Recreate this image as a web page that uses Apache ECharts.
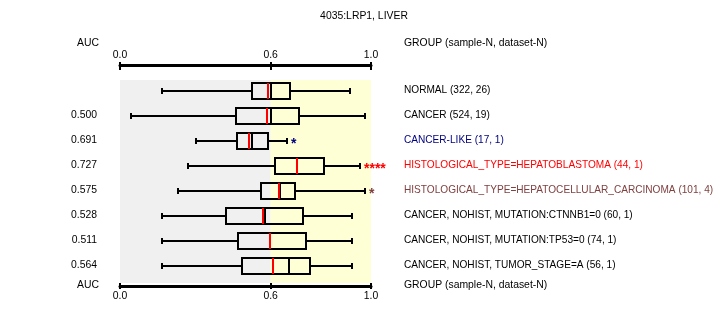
<!DOCTYPE html>
<html><head><meta charset="utf-8">
<script src="https://cdn.jsdelivr.net/npm/echarts@6/dist/echarts.min.js"></script>
<style>html,body{margin:0;padding:0;background:#fff}#c{width:721px;height:330px}</style>
</head><body><div id="c"></div>
<script>
const title = '4035:LRP1, LIVER';
const categories = ['NORMAL (322, 26)', 'CANCER (524, 19)', 'CANCER-LIKE (17, 1)',
  'HISTOLOGICAL_TYPE=HEPATOBLASTOMA (44, 1)', 'HISTOLOGICAL_TYPE=HEPATOCELLULAR_CARCINOMA (101, 4)',
  'CANCER, NOHIST, MUTATION:CTNNB1=0 (60, 1)', 'CANCER, NOHIST, MUTATION:TP53=0 (74, 1)',
  'CANCER, NOHIST, TUMOR_STAGE=A (56, 1)'];
const groupColors = ['#000000', '#000000', '#000080', '#ff0000', '#804040', '#000000', '#000000', '#000000'];
const aucLabels = ['', '0.500', '0.691', '0.727', '0.575', '0.528', '0.511', '0.564'];
const whiskerLow  = [0.166, 0.045, 0.304, 0.272, 0.232, 0.169, 0.169, 0.169];
const q1          = [0.525, 0.463, 0.467, 0.619, 0.563, 0.424, 0.471, 0.487];
const median      = [0.603, 0.603, 0.527, 0.706, 0.639, 0.579, 0.599, 0.672];
const q3          = [0.678, 0.714, 0.591, 0.814, 0.699, 0.730, 0.742, 0.758];
const whiskerHigh = [0.918, 0.977, 0.667, 0.956, 0.977, 0.926, 0.926, 0.926];
const mean        = [0.591, 0.587, 0.515, 0.706, 0.633, 0.571, 0.599, 0.611];
const stars       = ['', '', '*', '****', '*', '', '', ''];
const xTicks = [0, 0.6, 1.0];
const splitValue = 0.6;

const FONT = 'Liberation Sans';
const FS = 10.4;
const FS_GROUP = 10.1;
const chart = echarts.init(document.getElementById('c'), null, {renderer: 'canvas'});
const boxData = categories.map((c, i) => [i, whiskerLow[i], q1[i], median[i], q3[i], whiskerHigh[i], mean[i]]);

function axisCommon(pos, offset, showLine, showLabel, tickInside, tickLen, labelMargin) {
  return {
    type: 'value', min: 0, max: 1, position: pos, offset: offset,
    splitLine: {show: false},
    axisLine: {show: showLine, onZero: false, lineStyle: {color: '#000', width: 3}},
    axisTick: {show: true, inside: tickInside, length: tickLen, customValues: xTicks, lineStyle: {color: '#000', width: 2}},
    axisLabel: {show: showLabel, customValues: xTicks, margin: labelMargin, color: '#000', fontFamily: FONT, fontSize: FS,
      formatter: v => v.toFixed(1)}
  };
}

chart.setOption({
  animation: false,
  backgroundColor: '#fff',
  textStyle: {fontFamily: FONT, fontSize: FS},
  title: {text: title, left: 359, textAlign: 'center', top: 6,
    textStyle: {fontFamily: FONT, fontSize: FS, fontWeight: 'normal', color: '#000'}},
  grid: {left: 120, right: 350, top: 78, height: 200, containLabel: false, outerBoundsMode: 'none'},
  xAxis: [
    axisCommon('top', 13, true, true, false, 3, 5),
    axisCommon('top', 13, false, false, true, 5, 5),
    axisCommon('bottom', 8, true, true, false, 3, 5),
    axisCommon('bottom', 8, false, false, true, 3, 5)
  ],
  yAxis: [
    {type: 'category', data: categories, inverse: true, position: 'left',
      axisLine: {show: false}, axisTick: {show: false}, splitLine: {show: false},
      axisLabel: {margin: 23, color: '#000', fontFamily: FONT, fontSize: FS, formatter: (v, i) => aucLabels[i]}},
    {type: 'category', data: categories, inverse: true, position: 'right',
      axisLine: {show: false}, axisTick: {show: false}, splitLine: {show: false},
      axisLabel: {margin: 33, align: 'left', fontFamily: FONT, fontSize: FS_GROUP,
        color: (v, i) => groupColors[i !== undefined ? i : categories.indexOf(v)]}}
  ],
  graphic: [
    {type: 'text', left: 77, top: 38, style: {text: 'AUC', font: FS + 'px ' + FONT, fill: '#000'}},
    {type: 'text', left: 404, top: 38, style: {text: 'GROUP (sample-N, dataset-N)', font: FS + 'px ' + FONT, fill: '#000'}},
    {type: 'text', left: 77, top: 280, style: {text: 'AUC', font: FS + 'px ' + FONT, fill: '#000'}},
    {type: 'text', left: 404, top: 280, style: {text: 'GROUP (sample-N, dataset-N)', font: FS + 'px ' + FONT, fill: '#000'}}
  ],
  series: [
    {
      type: 'custom', xAxisIndex: 0, yAxisIndex: 0, silent: true, z: 1,
      data: [[0, splitValue, 1]],
      encode: {x: [0, 1, 2]},
      renderItem: function (params, api) {
        const cs = params.coordSys;
        const x0 = api.coord([api.value(0), 0])[0];
        const xm = api.coord([api.value(1), 0])[0];
        const x1 = api.coord([api.value(2), 0])[0];
        const yTop = cs.y + 2, h = cs.height + 3;
        return {type: 'group', children: [
          {type: 'rect', shape: {x: x0, y: yTop, width: xm - x0, height: h}, style: {fill: '#f0f0f0'}},
          {type: 'rect', shape: {x: xm, y: yTop, width: x1 - xm, height: h}, style: {fill: '#ffffd6'}}
        ]};
      }
    },
    {
      type: 'custom', xAxisIndex: 0, yAxisIndex: 0, silent: true, z: 2,
      data: boxData,
      encode: {y: 0, x: [1, 2, 3, 4, 5, 6]},
      renderItem: function (params, api) {
        const i = api.value(0);
        const y = Math.round(api.coord([0, i])[1]);
        const X = k => Math.round(api.coord([api.value(k), i])[0]);
        const lo = X(1), a = X(2), md = X(3), b = X(4), hi = X(5), mn = X(6);
        const hh = 8, cap = 3;
        const ls = {stroke: '#000', lineWidth: 2};
        const children = [
          {type: 'line', shape: {x1: lo, y1: y, x2: a, y2: y}, style: ls},
          {type: 'line', shape: {x1: b, y1: y, x2: hi, y2: y}, style: ls},
          {type: 'line', shape: {x1: lo, y1: y - cap, x2: lo, y2: y + cap}, style: ls},
          {type: 'line', shape: {x1: hi, y1: y - cap, x2: hi, y2: y + cap}, style: ls},
          {type: 'rect', shape: {x: a, y: y - hh, width: b - a, height: hh * 2}, style: {fill: 'none', stroke: '#000', lineWidth: 2}},
          {type: 'line', shape: {x1: md, y1: y - hh, x2: md, y2: y + hh}, style: ls},
          {type: 'line', shape: {x1: mn, y1: y - hh, x2: mn, y2: y + hh}, style: {stroke: '#ff0000', lineWidth: 2}}
        ];
        if (stars[i]) {
          children.push({type: 'text', x: hi + 4, y: y + 3, style: {text: stars[i], fill: groupColors[i],
            font: 'bold 14px ' + FONT, align: 'left', verticalAlign: 'middle'}});
        }
        return {type: 'group', children: children};
      }
    }
  ]
});
</script></body></html>
